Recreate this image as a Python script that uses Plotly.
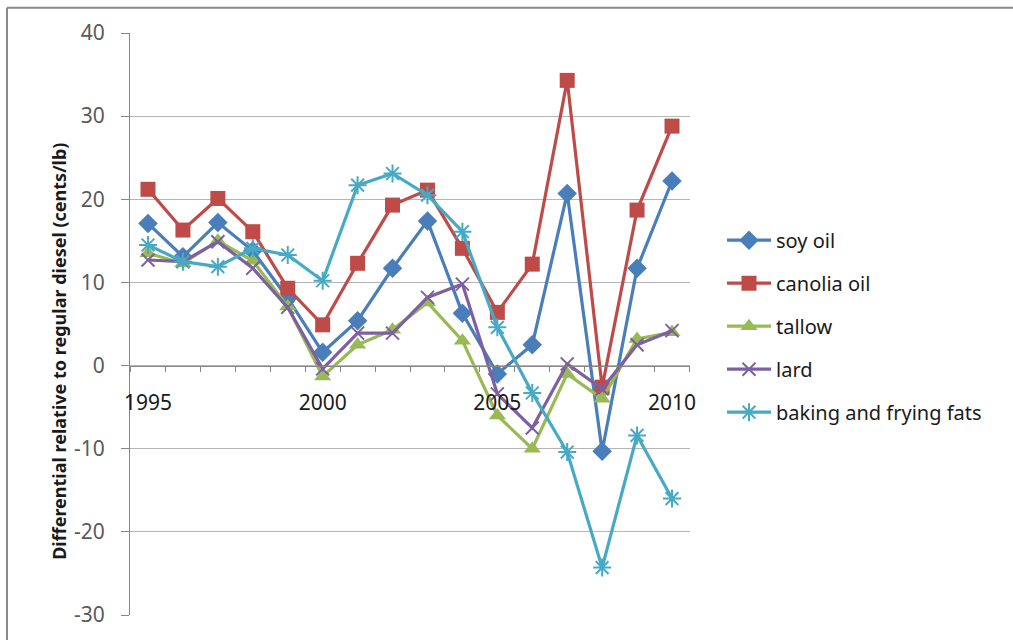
import plotly.graph_objects as go

# Price differential of biodiesel feedstocks vs. regular diesel, cents/lb
years = list(range(1995, 2011))
soy_oil = [17.1, 13.1, 17.2, 13.8, 8.1, 1.6, 5.4, 11.7, 17.4, 6.3, -1.0, 2.5, 20.7, -10.3, 11.7, 22.2]
canolia_oil = [21.2, 16.3, 20.1, 16.1, 9.3, 4.9, 12.3, 19.3, 21.1, 14.1, 6.4, 12.2, 34.3, -2.6, 18.7, 28.8]
tallow = [13.5, 12.3, 15.0, 12.6, 7.1, -1.3, 2.5, 4.3, 7.6, 3.0, -6.0, -10.0, -1.0, -4.0, 3.2, 4.0]
lard = [12.7, 12.5, 14.9, 11.7, 7.0, -0.4, 3.9, 3.9, 8.2, 9.8, -3.4, -7.5, 0.2, -2.8, 2.5, 4.2]
baking_frying = [14.5, 12.5, 11.9, 14.1, 13.3, 10.2, 21.7, 23.1, 20.5, 16.1, 4.6, -3.3, -10.4, -24.3, -8.4, -16.0]

series_names = ["soy oil", "canolia oil", "tallow", "lard", "baking and frying fats"]
x_tick_labels = ["1995", "2000", "2005", "2010"]
x_tick_years = [1995, 2000, 2005, 2010]
y_tick_values = [-30, -20, -10, 0, 10, 20, 30, 40]
y_tick_labels = ["-30", "-20", "-10", "0", "10", "20", "30", "40"]

W, H = 1013, 640
ML, MR, MT, MB = 130, 323, 33, 21
PW, PH = W - ML - MR, H - MT - MB


def px_x(p):
    return (p - ML) / PW


def px_y(p):
    return (H - MB - p) / PH


styles = [
    dict(color="#4A7EBB", symbol="diamond", size=15, lw=0),
    dict(color="#BE4B48", symbol="square", size=15, lw=0),
    dict(color="#98B954", symbol="triangle-up", size=15, lw=0),
    dict(color="#7D60A0", symbol="x-thin-open", size=13, lw=2),
    dict(color="#46AAC5", symbol="asterisk-open", size=15, lw=2),
]

fig = go.Figure()
for name, vals, st in zip(series_names, [soy_oil, canolia_oil, tallow, lard, baking_frying], styles):
    fig.add_trace(go.Scatter(
        x=years, y=vals, name=name, mode="lines+markers",
        legendgroup=name,
        line=dict(color=st["color"], width=3.2),
        marker=dict(symbol=st["symbol"], size=st["size"], color=st["color"],
                    line=dict(color=st["color"], width=st["lw"])),
    ))

axis_grey = "#868686"
fig.update_layout(
    width=W, height=H,
    margin=dict(l=ML, r=MR, t=MT, b=MB),
    paper_bgcolor="white", plot_bgcolor="white",
    font=dict(family="Noto Sans", color="#222222"),
    showlegend=True,
    legend=dict(
        x=px_x(722), y=px_y(222), xanchor="left", yanchor="top",
        font=dict(size=20, family="Noto Sans", color="#1a1a1a"),
        itemwidth=44, traceorder="grouped", tracegroupgap=14,
        bgcolor="rgba(0,0,0,0)",
    ),
    xaxis=dict(
        range=[1994.485, 2010.515],
        anchor="free", position=30 / 70,
        tickvals=x_tick_years, ticktext=x_tick_labels,
        ticks="", showgrid=False, zeroline=False,
        showline=True, linecolor=axis_grey, linewidth=1,
        tickfont=dict(size=21, color="#1a1a1a"),
        ticklabelstandoff=18,
        minor=dict(tickvals=[y + 0.5 for y in range(1994, 2011)], ticks="outside",
                   ticklen=5, tickcolor=axis_grey, showgrid=False),
    ),
    yaxis=dict(
        range=[-30, 40], tickvals=y_tick_values, ticktext=y_tick_labels,
        showgrid=True, gridcolor="#b5b5b5", gridwidth=1, zeroline=False,
        showline=True, linecolor=axis_grey, linewidth=1,
        ticks="outside", ticklen=8, tickcolor=axis_grey,
        tickfont=dict(size=21, color="#5a5a5a"),
        ticklabelstandoff=12,
    ),
)

fig.add_annotation(
    text="<b>Differential relative to regular diesel (cents/lb)</b>",
    xref="paper", yref="paper", x=px_x(45), y=px_y(354),
    textangle=-90, showarrow=False,
    font=dict(size=18, family="Noto Sans", color="#1a1a1a"),
)

# Chart frame (top and left edges)
fig.add_shape(type="line", xref="paper", yref="paper",
              x0=px_x(7), x1=px_x(W + 5), y0=px_y(7.5), y1=px_y(7.5),
              line=dict(color="#8a8a8a", width=2))
fig.add_shape(type="line", xref="paper", yref="paper",
              x0=px_x(7), x1=px_x(7), y0=px_y(7.5), y1=px_y(H + 5),
              line=dict(color="#8a8a8a", width=2))

fig.write_html("out.html")
